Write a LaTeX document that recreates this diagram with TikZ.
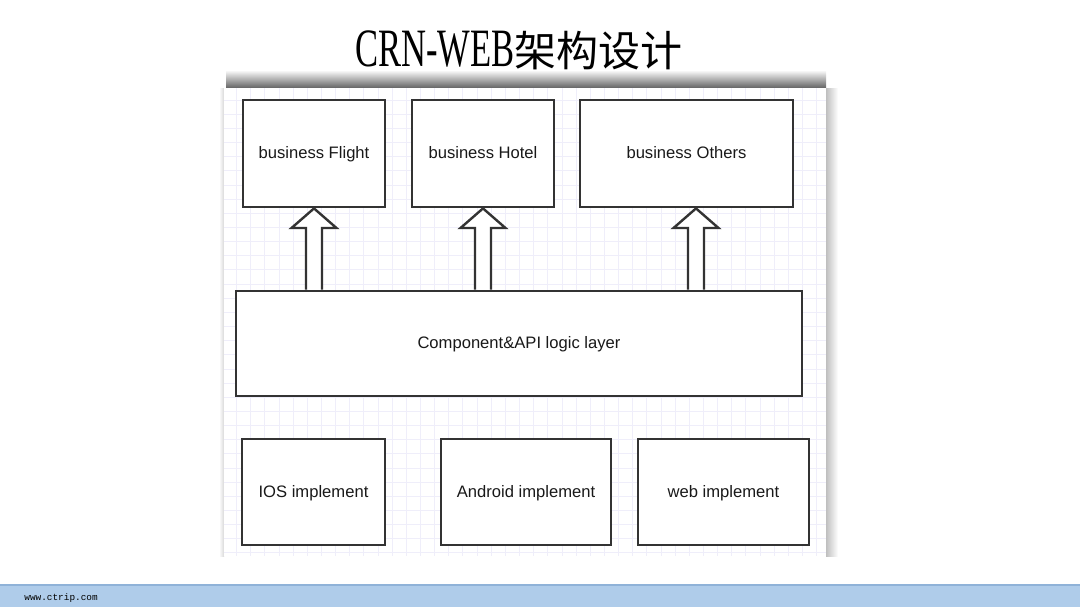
\documentclass[tikz,border=0pt]{standalone}
\usepackage{fontspec}
\setmainfont{Liberation Sans}
\newfontfamily\cjk{Noto Sans CJK SC}
\newfontfamily\titlefont{Liberation Serif}
\newfontfamily\footfont{Liberation Mono}
\definecolor{gridcol}{HTML}{EFEEFA}
\definecolor{barcol}{HTML}{AFCCEA}
\definecolor{barline}{HTML}{8FB2D8}
\definecolor{bordercol}{HTML}{333333}
\tikzset{
	layer/.style={draw=bordercol, line width=1.4pt, fill=white, inner sep=0pt,
		text height=0.72em, text depth=0.22em,
		font=\fontsize{8.3}{10}\selectfont, text=black!90},
	blockarrow/.style={draw=bordercol, line width=1.2pt, fill=white, line join=miter},
	gridline/.style={draw=gridcol, line width=0.5pt}
}
\begin{document}
\begin{tikzpicture}[x=0.5pt, y=-0.5pt]
		\useasboundingbox (0,0) rectangle (1080,607);

		% title
		\node[anchor=base] (title) at (519,66) {\titlefont\fontsize{27}{30}\selectfont\scalebox{0.64}[1]{CRN-WEB}\cjk\fontsize{21}{24}\selectfont 架构设计};

		% footer
		\fill[barcol] (0,585) rectangle (1080,607);
		\draw[barline, line width=0.6pt] (0,585) -- (1080,585);
		\node[anchor=west, inner sep=0pt] (site) at (24,598) {\footfont\fontsize{4.7}{6}\selectfont www.ctrip.com};

		% panel with shadow
		\shade[top color=white, bottom color=black!65] (226,70) rectangle (826,89);
		\shade[left color=black!25, right color=white] (826,88) rectangle (838,556);
		\shade[left color=white, right color=black!15] (219,88) rectangle (224,556);
		\fill[white] (224,88) rectangle (826,556);
		\begin{scope}
			\clip (224,88) rectangle (826,556);
			\foreach \i in {0,...,43}
				\draw[gridline] (222.4+\i*14.15,88) -- (222.4+\i*14.15,556);
			\foreach \j in {0,...,34}
				\draw[gridline] (224,86+\j*14.15) -- (826,86+\j*14.15);
		\end{scope}

		% layers
		\node[layer, minimum width=71pt, minimum height=53.5pt] (flight) at (314,153.5) {business Flight};
		\node[layer, minimum width=71pt, minimum height=53.5pt] (hotel) at (483,153.5) {business Hotel};
		\node[layer, minimum width=106.5pt, minimum height=53.5pt] (others) at (686.5,153.5) {business Others};
		\node[layer, minimum width=283pt, minimum height=52.5pt] (comp) at (519,343.5) {Component\&API logic layer};
		\node[layer, minimum width=71.5pt, minimum height=53pt] (ios) at (313.5,492) {IOS implement};
		\node[layer, minimum width=85pt, minimum height=53pt] (android) at (526,492) {Android implement};
		\node[layer, minimum width=85.5pt, minimum height=53pt] (web) at (723.5,492) {web implement};

		% block arrows
		\foreach \b/\x in {flight/314, hotel/483, others/696}
			\draw[blockarrow] (\x-8,0 |- comp.north) -- (\x-8,228) -- (\x-22.5,228) -- (\x,0 |- \b.south)
				-- (\x+22.5,228) -- (\x+8,228) -- (\x+8,0 |- comp.north);

	\end{tikzpicture}
\end{document}
